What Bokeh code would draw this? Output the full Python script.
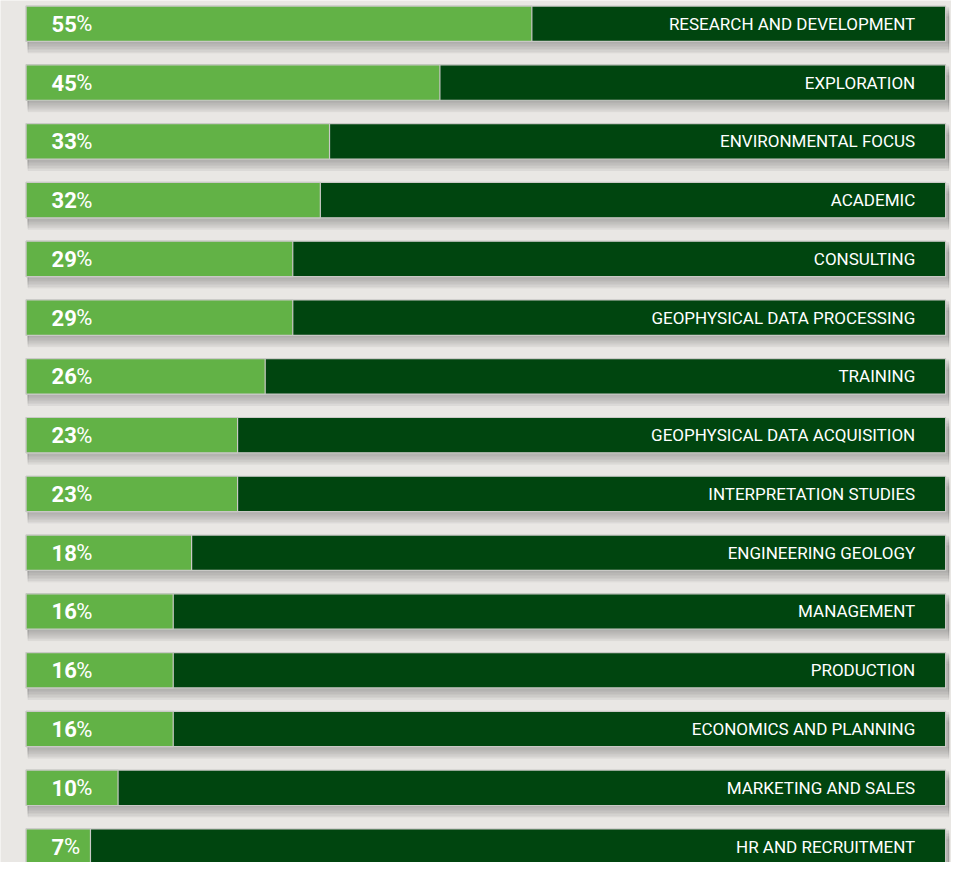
from bokeh.plotting import figure
from bokeh.models import ColumnDataSource, Range1d
from bokeh.embed import file_html
from bokeh.resources import INLINE
from bokeh.core.properties import value

categories = [
    "RESEARCH AND DEVELOPMENT", "EXPLORATION", "ENVIRONMENTAL FOCUS", "ACADEMIC",
    "CONSULTING", "GEOPHYSICAL DATA PROCESSING", "TRAINING",
    "GEOPHYSICAL DATA ACQUISITION", "INTERPRETATION STUDIES", "ENGINEERING GEOLOGY",
    "MANAGEMENT", "PRODUCTION", "ECONOMICS AND PLANNING", "MARKETING AND SALES",
    "HR AND RECRUITMENT",
]
percent = [55, 45, 33, 32, 29, 29, 26, 23, 23, 18, 16, 16, 16, 10, 7]

LIGHT = "#62b246"
DARK = "#00450f"
BORDER = "#c9c9c6"
BG = "#e9e7e4"
FONT = value("Roboto")
NUM_SIZE = 22
DIGIT_W = 0.562 * NUM_SIZE

rows = list(range(len(categories)))
src = ColumnDataSource(dict(
    y=rows,
    cat=categories,
    pct=percent,
    num=[str(v) for v in percent],
    pct_off=[len(str(v)) * DIGIT_W for v in percent],
    full=[100] * len(rows),
    zero=[0] * len(rows),
    sign=["%"] * len(rows),
))

W, H = 951, 862
p = figure(width=W, height=H, output_backend="svg", toolbar_location=None,
           x_range=Range1d(-2.784, 100.64), y_range=Range1d(14.271, -0.396),
           x_axis_location=None, y_axis_location=None, min_border=0)
p.grid.visible = False
p.outline_line_color = None
p.background_fill_color = BG
p.border_fill_color = BG

BH = 0.602
# soft shadow below each bar
for k in range(8):
    dy = 0.02 + 0.025 * k
    p.hbar(y=[r + dy for r in rows], height=BH, left=0.2, right=100.35,
           color="#77726d", alpha=0.07)

p.hbar(y="y", height=BH, left="zero", right="full", source=src,
       fill_color=DARK, line_color=BORDER, line_width=1.2)
p.hbar(y="y", height=BH, left="zero", right="pct", source=src,
       fill_color=LIGHT, line_color=BORDER, line_width=1.2)

p.text(x=2.77, y="y", text="num", source=src, text_color="white",
       text_font=FONT, text_font_style="bold", text_font_size=f"{NUM_SIZE}px",
       text_align="left", text_baseline="middle")
p.text(x=2.77, y="y", text="sign", x_offset="pct_off", source=src, text_color="white",
       text_font=FONT, text_font_size=f"{NUM_SIZE}px",
       text_align="left", text_baseline="middle")

p.text(x=100, y="y", text="cat", x_offset=-30.4, source=src, text_color="white",
       text_font=FONT, text_font_size="17px",
       text_align="right", text_baseline="middle")

open("out.html", "w").write(file_html(p, INLINE))
